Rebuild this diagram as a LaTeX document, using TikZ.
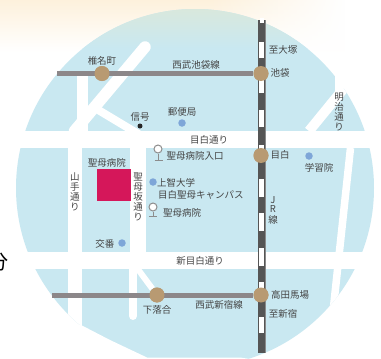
\documentclass[tikz,border=0pt]{standalone}
\usepackage{fontspec}
\setmainfont{Noto Sans CJK JP}
\usetikzlibrary{fadings}
\definecolor{sea}{HTML}{C9E8F1}
\definecolor{seatop}{HTML}{D9E8DC}
\definecolor{peach}{HTML}{FDF1DC}
\definecolor{seibu}{HTML}{8C8789}
\definecolor{jrdark}{HTML}{555555}
\definecolor{jredge}{HTML}{8A8A8A}
\definecolor{stn}{HTML}{B89A72}
\definecolor{dotblue}{HTML}{7EA6D8}
\definecolor{hosp}{HTML}{D5175A}
\definecolor{ink}{HTML}{444444}
\tikzfading[name=fadeeast, left color=transparent!100, right color=transparent!0]
\tikzset{
  lbl/.style={font=\fontsize{9.5}{10}\selectfont, text=ink, inner sep=0pt},
  road/.style={draw=white, line cap=butt},
  rail/.style={draw=seibu, line width=5pt},
  station/.style={circle, fill=stn, minimum size=15pt, inner sep=0pt},
  bluedot/.style={circle, fill=dotblue, minimum size=7.5pt, inner sep=0pt},
  blackdot/.style={circle, fill=black!85, minimum size=5pt, inner sep=0pt},
  whitebar/.style={fill=white, draw=none},
  pinhead/.style={circle, draw=black!45, fill=white, line width=1pt, minimum size=8pt, inner sep=0pt},
  pinstem/.style={draw=black!45, line width=1pt},
}
\newcommand{\vtxt}[1]{\begin{tabular}{@{}c@{}}#1\end{tabular}}
\begin{document}
\begin{tikzpicture}[x=1pt,y=-1pt]
\useasboundingbox (0,0) rectangle (381,359);
% background
\fill[white] (0,0) rectangle (381,359);
\shade[top color=peach,bottom color=white] (0,0) rectangle (381,52);
\fill[white,path fading=fadeeast] (210,0) rectangle (345,52);
\fill[white] (345,0) rectangle (381,52);
% map disc
\begin{scope}
  \clip (195,188) circle (179);
  \fill[sea] (0,0) rectangle (381,359);
  \shade[top color=seatop,bottom color=sea] (0,8) rectangle (381,48);
\end{scope}
% cuts at the disc's edge
\fill[white] (335,60) -- (355,60) -- (345,87) -- (335,95) -- cycle;
\fill[white] (70,323) -- (82,325.5) -- (110,340) -- (147,357.5) -- (240,357.5) -- (250,359) -- (70,359) -- cycle;
% roads
\coordinate (mejL) at (0,139.5);   \coordinate (mejR) at (381,139.5);
\coordinate (shinL) at (0,260.5);  \coordinate (shinR) at (381,260.5);
\draw[road,line width=17pt] (mejL) -- (mejR);
\draw[road,line width=17pt] (shinL) -- (shinR);
\begin{scope}
  \clip (195,188) circle (179);
  \coordinate (yamaT) at (75,140);  \coordinate (yamaB) at (75,345);
  \draw[road,line width=14pt] (yamaT) -- (yamaB);
  \coordinate (meiA) at (309,131);  \coordinate (meiB) at (349,82);
  \draw[road,line width=10pt] (meiA) -- (meiB);
  \coordinate (meiC) at (350.5,148); \coordinate (meiD) at (330,340);
  \draw[road,line width=7.5pt] (meiC) -- (meiD);
\end{scope}
\fill[white] (77,75) rectangle (88,131);
\coordinate (kTip) at (145,47);  \coordinate (kFoot) at (74.5,131);
\draw[road,line width=11.5pt,line cap=round] (kTip) -- (kFoot);
\coordinate (kJoin) at (90,105);  \coordinate (kEnd) at (140,135);
\draw[road,line width=8pt] (kJoin) -- (kEnd);
\fill[white] (130,148) rectangle (146,252);
\coordinate (zakaT) at (133,269); \coordinate (zakaB) at (133,316);
\draw[road,line width=8pt,line cap=round] (zakaT) -- (zakaB);
% railways
\node[station] (shiina) at (102,73.5) {};
\node[station] (ikebukuro) at (261,73.5) {};
\node[station] (mejiro) at (261,155.5) {};
\node[station] (baba) at (261,295) {};
\node[station] (ochiai) at (157,295) {};
\coordinate (sbwest) at (57,73.5);
\coordinate (sswest) at (52,295);
\coordinate (slipT) at (137,268);
\draw[road,line width=6pt] (slipT) -- (ochiai);
\draw[rail] (sbwest) -- (ikebukuro);
\draw[rail] (sswest) -- (baba);
% JR line
\fill[jredge] (258,20) rectangle (266,353);
\fill[jrdark] (258,20) rectangle (264.8,353);
\foreach \a/\b in {42/58,80/93,110/127,145/150,179/197,213/231,248/266,282/288,317/333}
  \fill[whitebar] (259.4,\a) rectangle (264,\b);
\fill[white] (260,18) rectangle (264,23);
\node[station] at (shiina) {};
\node[station] at (ikebukuro) {};
\node[station] at (mejiro) {};
\node[station] at (baba) {};
\node[station] at (ochiai) {};
% hospital
\fill[hosp] (97,169) rectangle (131,201);
% markers
\node[bluedot] (post) at (182,123) {};
\node[bluedot] (gaku) at (309,156) {};
\node[bluedot] (sophia) at (153,182) {};
\node[bluedot] (koban) at (122,243) {};
\node[blackdot] (sig) at (140,126) {};
\node[pinhead] (pinA) at (158,149) {};
\coordinate (pinAb) at (158,160);
\draw[pinstem] (pinA) -- (pinAb);
\draw[pinstem] (154.5,160) -- (162.5,160);
\node[pinhead] (pinB) at (153,207) {};
\coordinate (pinBb) at (153,216);
\draw[pinstem] (pinB) -- (pinBb);
\draw[pinstem] (149,216) -- (157,216);
% labels
\node[lbl] (t1) at (102,61) {椎名町};
\node[lbl] (t2) at (196,65) {西武池袋線};
\node[lbl] (t3) at (140,117) {信号};
\node[lbl] (t4) at (182,112) {郵便局};
\node[lbl] (t5) at (283,50) {至大塚};
\node[lbl] (t6) at (280,73) {池袋};
\node[lbl] (t7) at (209,140) {目白通り};
\node[lbl] (t8) at (280,155) {目白};
\node[lbl] (t9) at (319,168) {学習院};
\node[lbl] (t10) at (107,163) {聖母病院};
\node[lbl] (t11) at (195,156) {聖母病院入口};
\node[lbl,anchor=west] (t12) at (157,183) {上智大学};
\node[lbl,anchor=west] (t13) at (158,195) {目白聖母キャンパス};
\node[lbl] (t14) at (182,213) {聖母病院};
\node[lbl] (t15) at (105,244) {交番};
\node[lbl] (t16) at (200,261) {新目白通り};
\node[lbl] (t17) at (157,310) {下落合};
\node[lbl] (t18) at (219,305) {西武新宿線};
\node[lbl] (t19) at (290,295) {高田馬場};
\node[lbl] (t20) at (283,314) {至新宿};
\renewcommand{\arraystretch}{0.82}
\node[lbl,align=center] (t21) at (339,113) {\vtxt{明\\治\\通\\り}};
\node[lbl,align=center] (t22) at (138,198) {\vtxt{聖\\母\\坂\\通\\り}};
\node[lbl,align=center] (t23) at (75,193) {\vtxt{山\\手\\通\\り}};
\node[lbl,align=center] (t24) at (273,211) {\vtxt{J\\R\\線}};
\node[font=\fontsize{20}{22}\selectfont, text=black, inner sep=0pt] (t25) at (-2,262) {分};
\end{tikzpicture}
\end{document}
